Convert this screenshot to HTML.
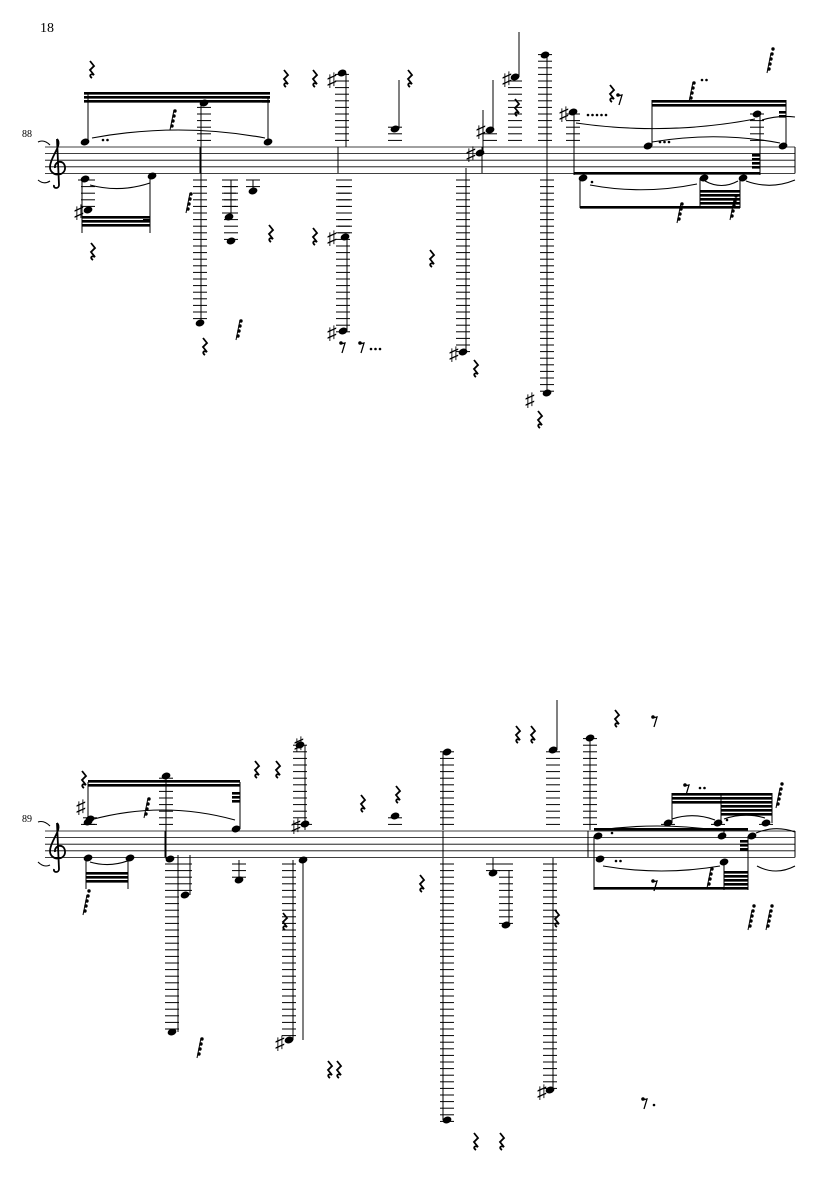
<!DOCTYPE html>
<html><head><meta charset="utf-8"><style>
html,body{margin:0;padding:0;background:#fff;width:835px;height:1181px;overflow:hidden}
svg{display:block}
text{font-family:"Liberation Serif",serif;fill:#000}
</style></head><body>
<svg id="s" width="835" height="1181" viewBox="0 0 835 1181" xmlns="http://www.w3.org/2000/svg">
<text x="40" y="32" font-size="14">18</text>
<text x="22" y="137" font-size="10">88</text>
<text x="22" y="822" font-size="10">89</text>
</svg>
<script>
var S=document.getElementById('s'),h='';
var SP=6.6;
function L(x1,y1,x2,y2,w){h+='<line x1="'+x1+'" y1="'+y1+'" x2="'+x2+'" y2="'+y2+'" stroke="#000" stroke-width="'+(w||1)+'"/>';}
function staff(t,x1,x2){for(var i=0;i<5;i++)L(x1,t+i*SP,x2,t+i*SP,0.8);}
function clef(x,t){h+='<path d="M'+(x+9)+' '+(t-8)+' C'+(x+15)+' '+(t-2)+' '+(x+2)+' '+(t+10)+' '+(x+2)+' '+(t+20)+' C'+(x+2)+' '+(t+30)+' '+(x+18)+' '+(t+30)+' '+(x+17)+' '+(t+20)+' C'+(x+16)+' '+(t+12)+' '+(x+6)+' '+(t+14)+' '+(x+7)+' '+(t+21)+' M'+(x+9)+' '+(t-8)+' L'+(x+11)+' '+(t+38)+' C'+(x+11)+' '+(t+42)+' '+(x+5)+' '+(t+42)+' '+(x+6)+' '+(t+38)+'" fill="none" stroke="#000" stroke-width="1.8"/>';}
function N(x,y){h+='<ellipse cx="'+x+'" cy="'+y+'" rx="4.5" ry="3.3" transform="rotate(-20 '+x+' '+y+')" fill="#000"/>';}
function led(x,y,t){var b=t+4*SP,k;if(y<=t-SP+1){for(k=t-SP;k>=y-2;k-=SP)L(x-7,k,x+7,k,1);}if(y>=b+SP-1){for(k=b+SP;k<=y+2;k+=SP)L(x-7,k,x+7,k,1);}}
function note(x,y,t,sx,sy){led(x,y,t);N(x,y);if(sy!==undefined){var xx=sx||x;L(xx,y,xx,sy,1);}}
function sharp(x,y){h+='<text x="'+(x-6)+'" y="'+(y+6)+'" font-size="19" font-family="DejaVu Sans">♯</text>';}
function beam(x1,y1,x2,y2,n,dir){for(var i=0;i<n;i++){var d=i*4*(dir||1);h+='<polygon points="'+x1+','+(y1+d)+' '+x2+','+(y2+d)+' '+x2+','+(y2+d+2.6)+' '+x1+','+(y1+d+2.6)+'" fill="#000"/>';}}
function rest(x,y){h+='<path d="M'+(x-2)+' '+(y-7)+' l4 5 l-4 4 l4 5 c-4 -2 -5 1 -2 3" fill="none" stroke="#000" stroke-width="1.8"/>';}
function r8(x,y){h+='<circle cx="'+(x-2)+'" cy="'+(y-3)+'" r="1.8"/><path d="M'+(x-3)+' '+(y-2)+' l5 -1 l-3 10" fill="none" stroke="#000" stroke-width="1.3"/>';}
function grace(x,y,n){L(x,y,x+4,y-20,1);for(var i=0;i<n;i++){h+='<circle cx="'+(x+2+i*1)+'" cy="'+(y-4-i*5)+'" r="1.7"/>';}}
function dots(x,y,n){for(var i=0;i<n;i++)h+='<circle cx="'+(x+i*4.5)+'" cy="'+y+'" r="1.3"/>';}
function tie(x1,y1,x2,y2,c){h+='<path d="M'+x1+' '+y1+' Q'+((x1+x2)/2)+' '+(c)+' '+x2+' '+y2+'" fill="none" stroke="#000" stroke-width="1.1"/>';}
function bar(x,t){L(x,t,x,t+4*SP,1);}

/* ---------- System 1 ---------- */
var T=147;
staff(T,45,795);clef(48,T);bar(795,T);
tie(38,142,50,145,139);tie(38,180,50,181,185);
note(85,142,T,88,92);
note(85,179,T,82,233);
note(88,210,T,82,233);sharp(80,212);
note(152,176,T,150,233);
beam(84,92,270,92,3);
beam(82,224,150,224,3,-1);beam(143,219,150,219,1);
note(204,103,T,201,103);L(201,103,201,180,1);
note(200,323,T,201,180);
note(229,217,T,231,180);note(231,241,T);
note(253,191,T,253,180);
note(268,142,T,268,96);
beam(262,96,270,96,2);
tie(92,138,265,138,122);tie(90,185,150,183,193);
dots(103,140,2);grace(170,130,4);grace(186,213,4);rest(93,250);
rest(92,68);rest(271,232);
rest(286,77);rest(315,77);rest(410,77);rest(315,235);
bar(200,T);bar(338,T);
note(342,73,T,346,73);L(346,73,346,147,1);sharp(333,80);
note(345,237,T,347,247);note(343,331,T,347,247);sharp(333,238);sharp(333,333);
rest(205,345);grace(236,340,4);r8(343,346);r8(362,346);dots(371,349,3);
note(395,129,T,399,80);
note(480,153,T,483,110);sharp(472,154);
note(490,130,T,493,80);sharp(482,131);
rest(432,257);
note(463,352,T,466,168);sharp(455,354);rest(476,367);
rest(517,106);
note(545,55,T,547,55);L(547,55,547,180,1);
note(515,77,T,519,32);sharp(508,79);
note(547,393,T,547,180);sharp(531,400);rest(540,418);
bar(482,T);bar(547,T);
note(573,112,T,574,112);L(574,112,574,175,1);sharp(565,114);dots(588,115,5);
note(648,146,T,652,100);dots(660,142,3);
note(757,114,T,760,112);L(760,112,760,175,1);
note(783,146,T,786,100);
beam(652,100,786,100,2);beam(779,111,786,111,2);
beam(574,172,760,172,1);beam(752,154,760,154,4);
rest(612,92);r8(620,98);grace(689,102,4);dots(702,80,2);grace(767,73,5);
tie(576,123,755,119,136);tie(652,142,780,143,131);tie(762,120,795,117,115);
note(583,178,T,580,208);dots(592,182,1);
note(704,178,T,700,208);note(743,178,T,740,208);
beam(580,206,740,206,1);beam(700,190,740,190,4);
tie(590,185,697,184,195);tie(705,181,738,181,190);tie(746,181,795,180,190);
grace(677,223,4);grace(730,220,5);
/* ---------- System 2 ---------- */
T=831;
staff(T,45,795);clef(48,T);bar(795,T);
tie(38,822,50,826,820);tie(38,862,50,865,868);
note(88,822,T,88,782);sharp(82,807);note(90,819,T);
note(88,858,T,86,889);note(130,858,T,128,889);
beam(86,880,128,880,3,-1);
beam(88,780,240,780,2);beam(232,792,240,792,3);
note(166,776,T,166,776);L(166,776,166,845,1);
note(170,859,T,166,859);L(166,845,166,859,1);
note(172,1032,T,178,855);
note(185,895,T,190,855);
note(239,880,T,239,860);
note(236,829,T,240,782);
tie(90,820,235,820,800);tie(90,862,130,860,868);
grace(144,818,4);grace(83,915,5);rest(84,778);
rest(257,768);rest(278,768);
note(300,745,T,305,745);L(305,745,305,830,1);sharp(300,744);
note(305,824,T);sharp(297,826);
note(303,860,T,303,858);L(303,858,303,1040,1);
note(289,1040,T,293,860);sharp(281,1043);
rest(285,920);grace(197,1058,4);rest(330,1068);rest(339,1068);
rest(363,802);rest(398,793);
note(395,816,T,399,816);
bar(165,T);bar(443,T);
note(447,752,T,443,752);L(443,752,443,830,1);
note(447,1120,T,443,858);
rest(422,882);rest(476,1140);rest(502,1140);
note(493,873,T,493,858);
note(506,925,T,509,870);
rest(518,733);rest(533,733);
note(553,750,T,557,700);
note(590,738,T,590,738);L(590,738,590,830,1);
note(550,1090,T,553,858);sharp(543,1092);
rest(557,917);rest(617,717);r8(655,720);r8(645,1102);dots(654,1105,1);
bar(588,T);
note(598,836,T,594,890);note(600,859,T);dots(612,833,1);dots(616,861,2);
note(668,823,T,672,793);
note(718,823,T,721,793);dots(727,820,1);
note(766,823,T,772,793);
beam(672,793,772,793,3);beam(721,805,772,805,3);
note(722,836,T,724,830);note(724,862,T,724,890);
note(752,836,T,748,890);
beam(594,828,748,828,1);beam(740,840,748,840,3);
beam(594,887,748,887,1);beam(724,871,748,871,4);
tie(600,830,715,830,822);tie(672,819,715,820,812);tie(724,819,765,818,812);tie(756,833,795,832,825);
tie(603,866,720,866,876);tie(757,866,795,866,876);
r8(687,788);dots(700,788,2);grace(707,888,4);grace(776,808,5);
r8(655,884);grace(748,930,5);grace(766,930,5);
S.insertAdjacentHTML('beforeend',h);
</script>
</body></html>
